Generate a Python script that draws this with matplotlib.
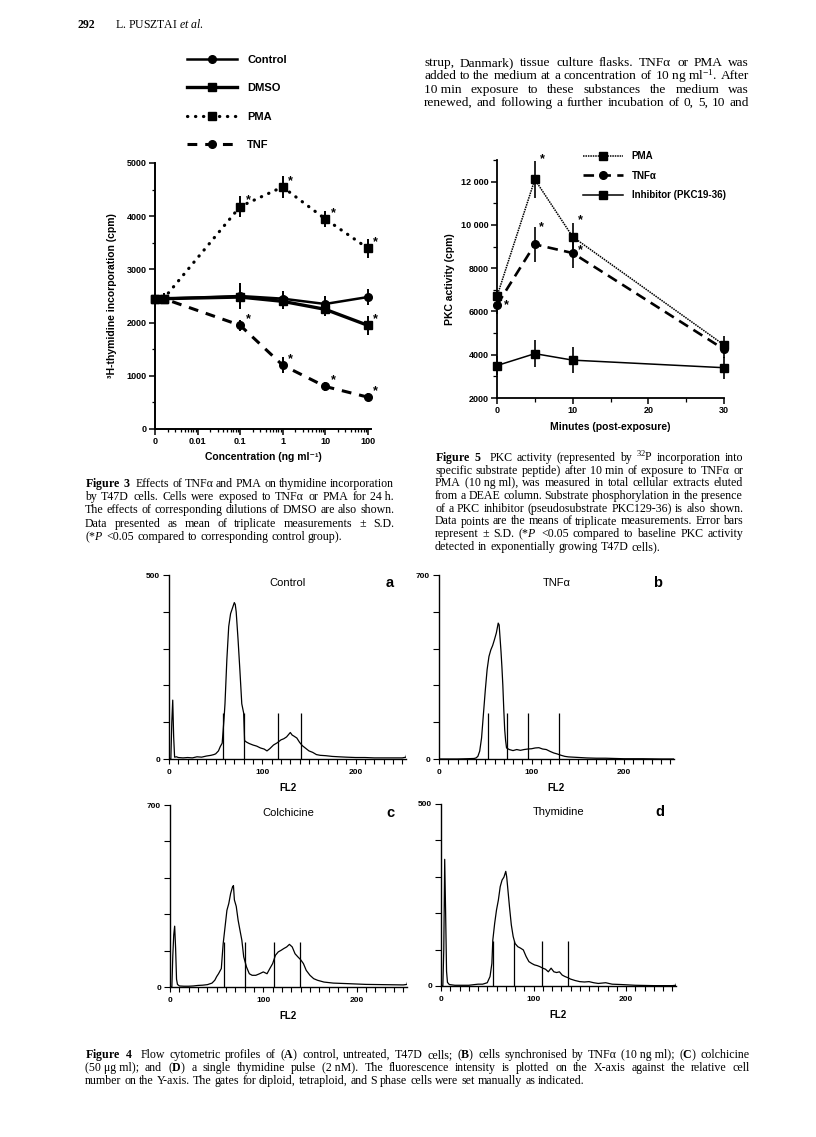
import matplotlib
matplotlib.use('Agg')
import matplotlib.pyplot as plt
from matplotlib.ticker import FixedLocator, NullFormatter, LogLocator, MultipleLocator

plt.rcParams['font.family'] = ['Liberation Sans', 'DejaVu Sans']
plt.rcParams['mathtext.fontset'] = 'custom'
plt.rcParams['mathtext.rm'] = 'Liberation Serif'
plt.rcParams['mathtext.it'] = 'Liberation Serif:italic'
plt.rcParams['mathtext.bf'] = 'Liberation Serif:bold'
plt.rcParams['mathtext.default'] = 'rm'

SERIF = 'Liberation Serif'
NB = '\u00a0'  # no-break space, keeps "10 ng" together when justifying

# ---------------- Figure 3 data: thymidine incorporation ----------------
conc = [0, 0.0016, 0.1, 1, 10, 100]
conc_ticks = [0, 0.01, 0.1, 1, 10, 100]
conc_labels = ['0', '0.01', '0.1', '1', '10', '100']
control = [2450, 2450, 2500, 2450, 2350, 2480]
control_sd = [100, 100, 250, 150, 150, 150]
dmso = [2450, 2450, 2480, 2400, 2250, 1950]
dmso_sd = [100, 100, 200, 150, 120, 180]
pma = [2450, 2450, 4180, 4550, 3950, 3400]
pma_sd = [100, 100, 200, 200, 150, 180]
tnf = [2450, 2450, 1950, 1200, 800, 600]
tnf_sd = [100, 100, 100, 150, 80, 80]
pma_sig = [0, 0, 1, 1, 1, 1]
tnf_sig = [0, 0, 1, 1, 1, 1]
dmso_sig = [0, 0, 0, 0, 0, 1]

# ---------------- Figure 5 data: PKC activity ----------------
minutes = [0, 5, 10, 30]
pkc_pma = [6700, 12100, 9450, 4450]
pkc_pma_sd = [300, 850, 650, 400]
pkc_tnf = [6300, 9100, 8700, 4250]
pkc_tnf_sd = [400, 800, 700, 400]
pkc_inh = [3500, 4050, 3750, 3400]
pkc_inh_sd = [450, 620, 600, 500]

# ---------------- Figure 4 data: flow cytometry histograms ----------------
ch_a = [0, 2, 3, 4, 5, 6, 8, 10, 15, 20, 25, 30, 35, 40, 45, 48, 50, 53, 55, 57, 59, 60, 62, 64,
        66, 68, 70, 71, 72, 74, 76, 78, 80, 81, 83, 86, 90, 94, 98, 102, 105, 108, 112, 116,
        120, 123, 126, 128, 130, 132, 134, 137, 140, 143, 146, 150, 154, 158, 162, 168, 175,
        182, 190, 200, 210, 220, 230, 240, 250, 254, 255]
cnt_a = [0, 0, 100, 160, 60, 5, 6, 4, 3, 4, 3, 6, 5, 8, 10, 12, 14, 22, 34, 43, 110, 150, 270, 360,
         395, 410, 425, 420, 400, 325, 240, 150, 125, 50, 46, 42, 38, 35, 30, 27, 22, 28, 38, 44,
         52, 55, 60, 66, 72, 65, 62, 57, 45, 36, 30, 22, 18, 12, 10, 9, 7,
         6, 5, 4, 4, 3, 3, 3, 3, 5, 16]
gates_a = [58, 80, 117, 141]

ch_b = [0, 10, 20, 30, 38, 40, 42, 44, 46, 48, 50, 52, 54, 56, 58, 60, 62, 64, 65, 66, 67, 68,
        69, 70, 71, 72, 73, 76, 80, 84, 88, 92, 96, 100, 104, 108, 112, 116, 120, 124, 128, 132,
        136, 140, 150, 160, 170, 180, 200, 220, 240, 255]
cnt_b = [0, 0, 0, 1, 2, 4, 10, 30, 80, 170, 260, 340, 390, 415, 432, 455, 480, 517, 510, 460, 410,
         350, 280, 190, 112, 70, 42, 36, 32, 36, 33, 36, 38, 39, 42, 43, 38, 36, 29, 23, 19, 14,
         10, 8, 6, 4, 3, 3, 1, 1, 0, 0]
gates_b = [53, 73, 96, 130]

ch_c = [0, 2, 3, 4, 5, 6, 7, 8, 10, 15, 20, 25, 30, 35, 40, 45, 48, 50, 52, 55, 56, 57, 59, 61,
        63, 65, 67, 68, 69, 71, 73, 75, 77, 79, 82, 85, 88, 92, 96, 100, 104, 107, 110, 113, 116,
        119, 122, 125, 128, 131, 134, 137, 140, 143, 146, 150, 154, 158, 165, 175, 190, 210, 230,
        250, 254, 255]
cnt_c = [0, 0, 120, 200, 234, 150, 30, 10, 4, 3, 3, 4, 6, 7, 9, 15, 26, 40, 51, 71, 120, 167, 231,
         295, 321, 360, 385, 390, 335, 310, 257, 218, 180, 116, 77, 51, 45, 45, 51, 58, 51, 71,
         90, 122, 135, 141, 148, 154, 164, 154, 128, 116, 105, 90, 64, 45, 32, 26, 19, 15, 13,
         10, 9, 8, 10, 26]
gates_c = [58, 80, 111, 139]

ch_d = [0, 2, 3, 4, 5, 6, 7, 9, 15, 20, 30, 40, 45, 50, 53, 55, 56, 58, 60, 62, 64, 66, 68, 70,
        71, 72, 74, 76, 78, 80, 83, 86, 89, 92, 95, 98, 101, 104, 107, 110, 113, 116, 119, 122,
        125, 128, 131, 134, 137, 140, 145, 150, 155, 160, 165, 170, 178, 185, 195, 210, 230, 250,
        254, 255]
cnt_d = [0, 0, 100, 348, 200, 40, 10, 4, 2, 2, 2, 5, 5, 9, 26, 62, 126, 172, 209, 236, 273, 291,
         299, 315, 300, 273, 218, 168, 136, 117, 108, 104, 99, 81, 67, 62, 58, 56, 53, 49, 46, 39,
         49, 39, 37, 39, 30, 26, 23, 19, 15, 12, 11, 12, 9, 7, 9, 5, 4, 2, 1, 1, 2, 12]
gates_d = [56, 79, 109, 137]

panels = [
    ('Control', 'a', ch_a, cnt_a, gates_a, 500),
    ('TNFα', 'b', ch_b, cnt_b, gates_b, 700),
    ('Colchicine', 'c', ch_c, cnt_c, gates_c, 700),
    ('Thymidine', 'd', ch_d, cnt_d, gates_d, 500),
]

# ---------------- page text ----------------
body_lines = [
    "strup, Danmark) tissue culture flasks. TNFα or PMA was",
    "added to the medium at a concentration of 10" + NB + "ng" + NB + "ml$^{-1}$. After",
    "10" + NB + "min exposure to these substances the medium was",
    "renewed, and following a further incubation of 0, 5, 10 and",
]
cap3_lines = [
    "$\\mathbf{Figure}$ $\\mathbf{3}$  Effects of TNFα and PMA on thymidine incorporation",
    "by T47D cells. Cells were exposed to TNFα or PMA for 24" + NB + "h.",
    "The effects of corresponding dilutions of DMSO are also shown.",
    "Data presented as mean of triplicate measurements ± S.D.",
    "(*$\\mathit{P}$ <0.05 compared to corresponding control group).",
]
cap5_lines = [
    "$\\mathbf{Figure}$ $\\mathbf{5}$  PKC activity (represented by $^{32}$P incorporation into",
    "specific substrate peptide) after 10" + NB + "min of exposure to TNFα or",
    "PMA (10" + NB + "ng" + NB + "ml), was measured in total cellular extracts eluted",
    "from a DEAE column. Substrate phosphorylation in the presence",
    "of a PKC inhibitor (pseudosubstrate PKC129-36) is also shown.",
    "Data points are the means of triplicate measurements. Error bars",
    "represent ± S.D. (*$\\mathit{P}$ <0.05 compared to baseline PKC activity",
    "detected in exponentially growing T47D cells).",
]
cap4_lines = [
    "$\\mathbf{Figure}$ $\\mathbf{4}$  Flow cytometric profiles of ($\\mathbf{A}$) control, untreated, "
    "T47D cells; ($\\mathbf{B}$) cells synchronised by TNFα (10" + NB + "ng" + NB + "ml); "
    "($\\mathbf{C}$) colchicine",
    "(50" + NB + "μg" + NB + "ml); and ($\\mathbf{D}$) a single thymidine pulse (2" + NB + "nM). "
    "The fluorescence intensity is plotted on the X-axis against the relative cell",
    "number on the Y-axis. The gates for diploid, tetraploid, and S phase cells were set manually "
    "as indicated.",
]

W, H = 816, 1137
fig = plt.figure(figsize=(W / 100, H / 100), dpi=100)
renderer = fig.canvas.get_renderer()
PX = 72 / 100  # points per pixel


def fx(x):
    return x / W


def fy(y):
    return 1 - y / H


def box(l, t, r, b):
    return fig.add_axes([l / W, 1 - b / H, (r - l) / W, (b - t) / H])


def text_line(x0, x1, y, line, size, justify=True):
    words = line.split(' ')
    items = [fig.text(0, fy(y), w, fontsize=size, va='baseline', family=SERIF) for w in words]
    widths = [t.get_window_extent(renderer).width if w else 0 for t, w in zip(items, words)]
    gap = size / PX * 0.25
    if justify and len(words) > 1:
        gap = (x1 - x0 - sum(widths)) / (len(words) - 1)
    x = x0
    for t, w in zip(items, widths):
        t.set_x(fx(x))
        x += w + gap


def paragraph(x0, x1, y0, step, lines, size, last_justified=False):
    for i, line in enumerate(lines):
        last = i == len(lines) - 1
        text_line(x0, x1, y0 + i * step, line, size, justify=(not last) or last_justified)


# header
fig.text(fx(77), fy(28), '292', fontsize=8.5, weight='bold', family=SERIF, va='baseline')
fig.text(fx(115), fy(28), 'L. PUSZTAI $\\mathit{et\\ al.}$', fontsize=8.5, family=SERIF,
         va='baseline')

paragraph(424, 749, 66, 13.4, body_lines, 9.6, last_justified=True)
paragraph(85, 394, 487, 13.2, cap3_lines, 8.6)
paragraph(435, 743, 461, 12.7, cap5_lines, 8.6)
paragraph(85, 750, 1058, 13.2, cap4_lines, 8.6)

# ---------------- Figure 3 ----------------
ZERO = 0.001  # log-axis position of the "0" concentration
xs = [ZERO if c == 0 else c for c in conc]
ax3 = box(155, 163, 371, 429)
ax3.set_xscale('log')
series3 = [
    ('Control', control, control_sd, dict(ls='-', lw=1.8, marker='o', ms=5.5)),
    ('DMSO', dmso, dmso_sd, dict(ls='-', lw=2.4, marker='s', ms=5.5)),
    ('PMA', pma, pma_sd, dict(ls=(0, (0.1, 2.4)), lw=2.3, marker='s', ms=5.5, dash_capstyle='round')),
    ('TNF', tnf, tnf_sd, dict(ls=(0, (3.2, 2.6)), lw=2.2, marker='o', ms=5.5)),
]
for name, vals, sd, style in series3:
    ax3.plot(xs, vals, color='black', label=name, clip_on=False, zorder=3, **style)
    ax3.errorbar(xs, vals, yerr=sd, fmt='none', ecolor='black', elinewidth=1.4, capsize=0,
                 clip_on=False, zorder=3)
for vals, sig in [(pma, pma_sig), (tnf, tnf_sig), (dmso, dmso_sig)]:
    for x, v, s in zip(xs, vals, sig):
        if s:
            ax3.annotate('*', (x, v), xytext=(8 * PX, 6 * PX), textcoords='offset points',
                         fontsize=9, weight='bold', ha='center', va='center')
ax3.set_xlim(ZERO, 120)
ax3.set_ylim(0, 5000)
ax3.xaxis.set_major_locator(FixedLocator([ZERO if c == 0 else c for c in conc_ticks]))
ax3.set_xticklabels(conc_labels)
ax3.xaxis.set_minor_locator(LogLocator(base=10, subs=range(2, 10)))
ax3.xaxis.set_minor_formatter(NullFormatter())
ax3.yaxis.set_major_locator(MultipleLocator(1000))
ax3.yaxis.set_minor_locator(MultipleLocator(500))
for s in ['top', 'right']:
    ax3.spines[s].set_visible(False)
for s in ['left', 'bottom']:
    ax3.spines[s].set_linewidth(1.4)
ax3.tick_params(which='major', direction='out', length=4, width=1.1, labelsize=6.5, pad=2)
ax3.tick_params(which='minor', direction='out', length=2.5, width=0.9)
for lab in ax3.get_xticklabels() + ax3.get_yticklabels():
    lab.set_fontweight('bold')
ax3.set_xlabel('Concentration (ng ml⁻¹)', fontsize=7.5, weight='bold', labelpad=4)
ax3.set_ylabel('³H-thymidine incorporation (cpm)', fontsize=7.5, weight='bold', labelpad=7)
ax3.legend(loc='upper left', bbox_to_anchor=(fx(187), fy(55)), bbox_transform=fig.transFigure,
           frameon=False, prop={'weight': 'bold', 'size': 8}, handlelength=4.5,
           handletextpad=0.9, labelspacing=1.65, borderpad=0, borderaxespad=0, numpoints=1)

# ---------------- Figure 5 ----------------
ax5 = box(497, 160, 724, 398)
series5 = [
    ('PMA', pkc_pma, pkc_pma_sd, dict(ls=(0, (1, 0.6)), lw=1.1, marker='s', ms=5.5)),
    ('TNFα', pkc_tnf, pkc_tnf_sd, dict(ls=(0, (4, 2.4)), lw=1.9, marker='o', ms=5.5)),
    ('Inhibitor (PKC19-36)', pkc_inh, pkc_inh_sd, dict(ls='-', lw=1.1, marker='s', ms=5.5)),
]
for name, vals, sd, style in series5:
    ax5.plot(minutes, vals, color='black', label=name, clip_on=False, zorder=3, **style)
    ax5.errorbar(minutes, vals, yerr=sd, fmt='none', ecolor='black', elinewidth=1.2, capsize=0,
                 clip_on=False, zorder=3)
star5 = [(pkc_pma, 1, (8, 20)), (pkc_pma, 2, (8, 17)), (pkc_tnf, 1, (7, 17)),
         (pkc_tnf, 2, (8, 3)), (pkc_tnf, 0, (9, 0))]
for vals, i, (dx, dy) in star5:
    ax5.annotate('*', (minutes[i], vals[i]), xytext=(dx * PX, dy * PX), textcoords='offset points',
                 fontsize=9, weight='bold', ha='center', va='center')
ax5.set_xlim(0, 30)
ax5.set_ylim(2000, 13000)
ax5.xaxis.set_major_locator(MultipleLocator(10))
ax5.xaxis.set_minor_locator(MultipleLocator(5))
ax5.yaxis.set_major_locator(FixedLocator([2000, 4000, 6000, 8000, 10000, 12000]))
ax5.set_yticklabels(['2000', '4000', '6000', '8000', '10 000', '12 000'])
ax5.yaxis.set_minor_locator(MultipleLocator(1000))
for s in ['top', 'right']:
    ax5.spines[s].set_visible(False)
for s in ['left', 'bottom']:
    ax5.spines[s].set_linewidth(1.3)
ax5.tick_params(which='major', direction='out', length=4, width=1.1, labelsize=6.5, pad=2)
ax5.tick_params(which='minor', direction='out', length=3, width=0.9)
for lab in ax5.get_xticklabels() + ax5.get_yticklabels():
    lab.set_fontweight('bold')
ax5.set_xlabel('Minutes (post-exposure)', fontsize=7.5, weight='bold', labelpad=5)
ax5.set_ylabel('PKC activity (cpm)', fontsize=7.5, weight='bold', labelpad=4)
ax5.legend(loc='upper left', bbox_to_anchor=(fx(583), fy(151)), bbox_transform=fig.transFigure,
           frameon=False, prop={'weight': 'bold', 'size': 7}, handlelength=4.1,
           handletextpad=0.9, labelspacing=1.0, borderpad=0, borderaxespad=0, numpoints=1)

# ---------------- Figure 4 ----------------
boxes4 = [(169, 575, 406, 759), (439, 575, 674, 759), (170, 805, 407, 987), (441, 804, 676, 986)]
for (title, letter, ch, cnt, gates, top), (l, t, r, b) in zip(panels, boxes4):
    ax = box(l, t, r, b)
    ax.plot(ch, cnt, color='black', lw=0.9)
    ax.vlines(gates, 0, top / 4, color='black', lw=0.9)
    ax.set_xlim(0, 254)
    ax.set_ylim(0, top)
    ax.xaxis.set_major_locator(FixedLocator([0, 100, 200]))
    ax.xaxis.set_minor_locator(MultipleLocator(10))
    ax.yaxis.set_major_locator(FixedLocator([0, top]))
    ax.yaxis.set_minor_locator(MultipleLocator(top / 5))
    for s in ['top', 'right']:
        ax.spines[s].set_visible(False)
    for s in ['left', 'bottom']:
        ax.spines[s].set_linewidth(1.0)
    ax.tick_params(axis='x', which='both', direction='out', length=3.5, width=0.8, labelsize=6,
                   pad=4)
    ax.tick_params(axis='y', which='both', direction='out', length=4.5, width=0.8, labelsize=6,
                   pad=2)
    for lab in ax.get_xticklabels() + ax.get_yticklabels():
        lab.set_fontweight('bold')
    dy = 8 / (b - t)
    ax.text(0.5, 1 - dy, title, transform=ax.transAxes, fontsize=8, ha='center', va='center')
    ax.text(0.93, 1 - dy, letter, transform=ax.transAxes, fontsize=10.5, weight='bold',
            ha='center', va='center')
    ax.set_xlabel('FL2', fontsize=7, weight='bold', labelpad=5)

fig.savefig('out.png', dpi=100)
